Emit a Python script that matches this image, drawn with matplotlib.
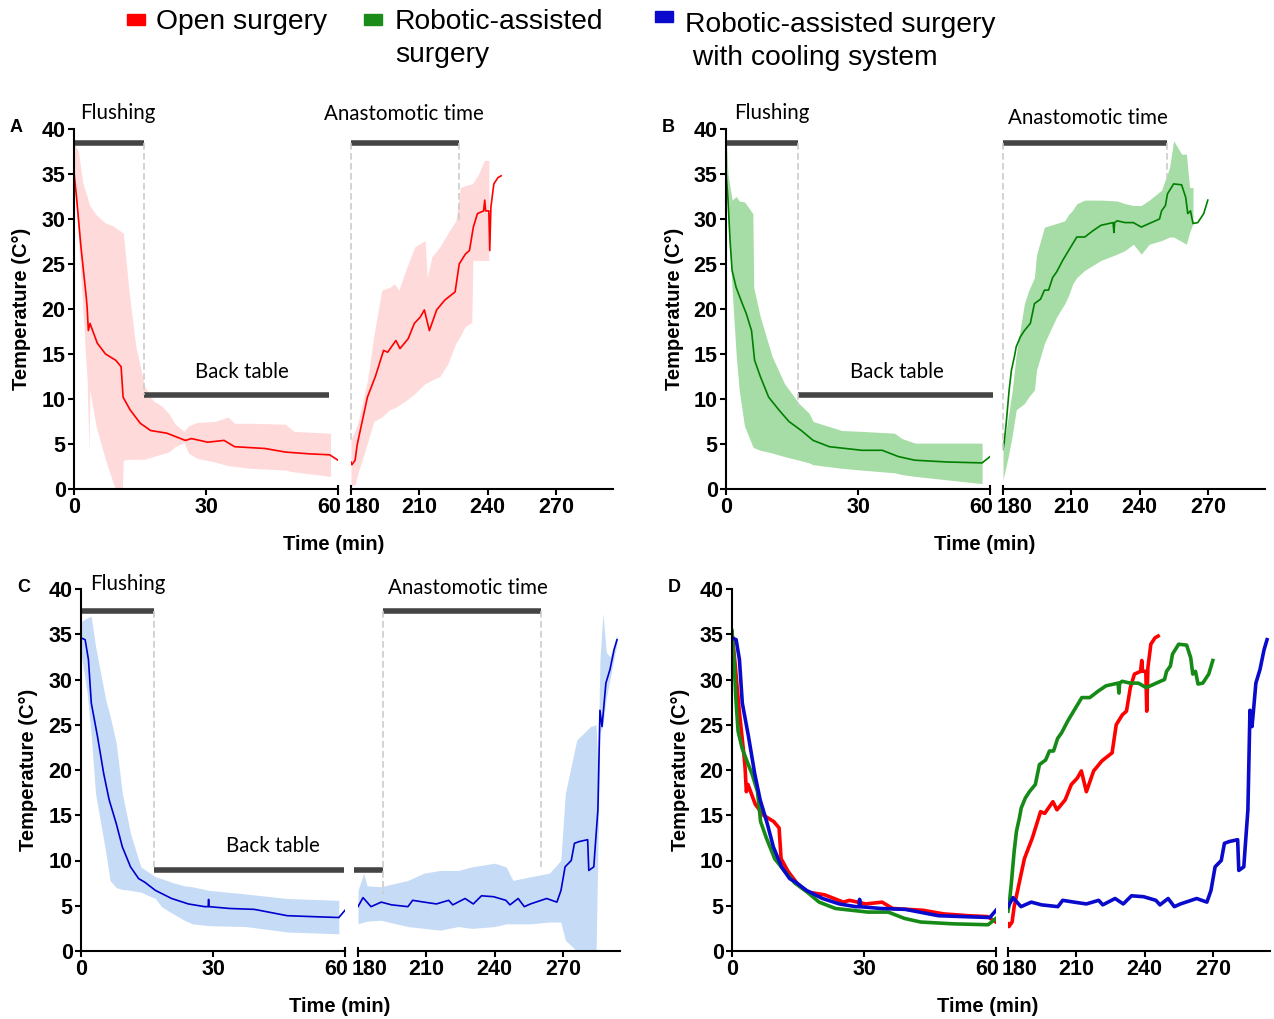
import matplotlib.pyplot as plt
import matplotlib.transforms as mtransforms

# ---------------- DATA ----------------
# OPEN SURGERY (red) - mean curve, 0-60 min
open_t_left = [0, 0.65, 1.58, 2.79, 2.98, 3.26, 3.63, 5.3, 7.16, 9.49, 10.7, 11.16, 12.74,
               15.07, 17.4, 21.1, 25.3, 26.7, 30.4, 34.1, 36.5, 43.4, 48.1, 53.7, 58.1, 60]
open_mean_left = [35.2, 32, 26.9, 21.3, 20.2, 17.6, 18.4, 16.2, 15.0, 14.3, 13.6, 10.2, 8.8,
                  7.3, 6.5, 6.2, 5.4, 5.6, 5.2, 5.4, 4.7, 4.5, 4.1, 3.9, 3.8, 3.2]
open_band_t_left = [0, 1, 2, 3, 3.4, 3.6, 5, 7, 9, 9.5, 11, 11.2, 12.5, 14, 16, 18, 20, 21.5,
                    23, 25, 26, 28, 32, 35, 36.5, 40, 48, 50, 58.3]
open_upper_left = [38.5, 37.5, 34, 32.5, 31.7, 31.5, 30.5, 29.6, 29.2, 29.0, 28.5, 28.5, 22, 16,
                   11.5, 9.8, 9.2, 8.4, 7.2, 6.4, 7.0, 7.4, 7.5, 8.0, 7.3, 7.3, 7.2, 6.4, 6.2]
open_lower_left = [35, 28, 20, 12, 4.1, 11, 7, 3.5, 0.5, 0, 0, 3.2, 3.3, 3.3, 3.3, 3.6, 3.9, 4.1,
                   4.7, 5.2, 4.0, 3.4, 3.0, 2.6, 2.5, 2.3, 2.1, 1.9, 1.4]
# OPEN SURGERY - 180 min onwards
open_t_right = [180, 180.4, 181.8, 182.7, 187.2, 190.7, 194.3, 196.1, 199.7, 201.5, 205.1, 207.8,
                210.4, 212.2, 214.4, 217.6, 221.2, 225.7, 227.5, 230.2, 232.0, 233.7, 235.5,
                238.2, 238.7, 239.1, 240.5, 240.9, 241.4, 242.7, 244.5, 245.9]
open_mean_right = [3.0, 2.7, 3.2, 4.9, 10.2, 12.5, 15.4, 15.2, 16.5, 15.6, 16.7, 18.4,
                   19.1, 19.9, 17.6, 19.9, 21.0, 21.9, 25.0, 26.1, 26.5, 29.1, 30.6,
                   30.9, 32.1, 30.9, 30.9, 26.5, 31.3, 33.9, 34.6, 34.8]
open_band_t_right = [180, 181.8, 183, 187.2, 190, 193.5, 197, 199, 201, 204, 208, 212.5, 213.5,
                     215.5, 219, 222.5, 226, 228, 230, 233, 233.5, 236, 238.5, 240.5]
open_upper_right = [5.5, 6.5, 7.3, 12, 17, 22.1, 22.4, 22.8, 22.1, 24.3, 26.9, 27.6, 23.5,
                    25.8, 26.9, 28.4, 29.8, 33.5, 33.7, 33.9, 34.0, 35.0, 36.5, 36.5]
open_lower_right = [0.3, 0.5, 1.7, 5.1, 7.5, 8.0, 8.8, 9.0, 9.3, 9.8, 10.6, 11.7, 11.8,
                    12.1, 12.5, 13.9, 16.2, 17.0, 18.0, 18.5, 25.4, 25.4, 25.4, 25.4]

# ROBOTIC-ASSISTED SURGERY (green)
robot_t_left = [0, 0.46, 0.92, 1.38, 2.3, 3.7, 4.6, 5.8, 6.5, 7.8, 9.7, 12.0, 14.3, 17.1, 19.8,
                23.5, 27.2, 30.9, 35.5, 39.2, 42.9, 50.3, 58.2, 60]
robot_mean_left = [35.4, 32.1, 27.6, 24.3, 22.4, 20.6, 19.5, 17.6, 14.3, 12.5, 10.2, 8.8, 7.5,
                   6.5, 5.4, 4.7, 4.5, 4.3, 4.3, 3.6, 3.2, 3.0, 2.9, 3.6]
robot_band_t_left = [0, 0.46, 1.4, 2.3, 3.0, 4.2, 6.1, 6.3, 7.8, 10.5, 13.3, 16.6, 18.9, 19.8,
                     26.3, 30.9, 38.3, 40, 43, 58.2]
robot_upper_left = [39.4, 35.0, 32.1, 32.5, 32.0, 31.9, 30.6, 22.4, 19.1, 14.7, 11.7, 9.5, 8.4,
                    7.5, 6.5, 6.4, 6.2, 5.6, 5.1, 5.1]
robot_lower_left = [36.9, 30, 22.1, 15, 11, 7, 4.7, 4.6, 4.3, 4.0, 3.6, 3.2, 2.9, 2.7, 2.3, 2.1,
                    1.8, 1.6, 1.4, 0.6]
robot_t_right = [180, 180.5, 181.4, 182.7, 183.7, 185.0, 185.8, 187.6, 189.4, 192.0, 193.8, 196.5,
                 198.2, 200.0, 201.8, 203.5, 206.2, 208.8, 212.4, 215.9, 219.5, 223.0, 228.3,
                 228.7, 229.0, 230.1, 233.6, 237.2, 240.7, 244.2, 248.7, 249.6, 251.3, 252.2,
                 254.9, 258.4, 260.2, 261.1, 262.3, 263.4, 265.5, 268.1, 269.9]
robot_mean_right = [4.4, 5.1, 7.3, 11.0, 13.2, 14.7, 15.8, 16.9, 17.6, 18.4, 20.6, 21.1,
                    22.1, 22.1, 23.5, 24.1, 25.4, 26.5, 28.0, 28.0, 28.7, 29.3, 29.6,
                    28.5, 29.6, 29.8, 29.6, 29.6, 29.1, 29.5, 30.0, 30.9, 31.5, 32.8,
                    33.9, 33.8, 32.4, 30.6, 30.9, 29.5, 29.6, 30.6, 32.1]
robot_band_t_right = [180, 182.3, 184.1, 185.8, 189.4, 191.2, 193.8, 194.7, 198.2, 203.5, 207.1,
                      208.8, 210.6, 212.4, 215.9, 223.0, 230.1, 233.6, 237.2, 240.7, 244.2,
                      249.6, 253.1, 254.9, 258.4, 260.5, 261.9, 263.4]
robot_upper_right = [4.3, 8, 11.0, 15, 20.6, 22, 23.5, 26, 29.1, 29.5, 29.8, 30.5, 31, 31.7,
                     32.1, 32.1, 32.0, 31.7, 31.5, 31.5, 32.1, 33.2, 35.7, 38.7, 37.2, 37.2,
                     33.5, 33.5]
robot_lower_right = [1.0, 3.6, 6, 8.8, 9.5, 10.2, 11, 13.2, 16.2, 19.1, 20.6, 21.5, 22.8, 23.5,
                     24.3, 25.4, 26.1, 26.5, 27.2, 26.1, 27.2, 27.6, 28, 28, 27.5, 27.2,
                     28.5, 29.5]

# ROBOTIC-ASSISTED SURGERY WITH COOLING SYSTEM (blue)
cool_t_left = [0, 0.94, 1.69, 2.34, 3.75, 5.16, 6.4, 8.0, 9.4, 11.25, 13.1, 14.5, 16.9, 20.6,
               24.4, 28.1, 28.9, 29.0, 29.1, 33.75, 39.4, 46.9, 52.5, 58.6, 60]
cool_mean_left = [34.6, 34.4, 32.2, 27.4, 23.7, 19.6, 16.7, 14.1, 11.5, 9.3, 8.0, 7.6, 6.7, 5.8,
                  5.2, 4.9, 4.9, 5.7, 4.9, 4.7, 4.6, 3.9, 3.8, 3.7, 4.5]
cool_band_t_left = [0, 1.4, 2.3, 3.3, 5.6, 6.6, 8.0, 9.4, 11.25, 13.6, 16.9, 18.3, 20.6, 23.5,
                    25.3, 29.1, 37.5, 46.9, 58.6]
cool_upper_left = [36.4, 36.8, 37.0, 33.7, 27.8, 26, 23.0, 17.4, 13.0, 9.3, 8.2, 8.0, 7.6, 7.2,
                   7.1, 6.7, 6.3, 5.8, 5.6]
cool_lower_left = [32.9, 28.5, 24, 17.4, 11, 7.8, 7.0, 6.8, 6.7, 6.5, 5.8, 4.9, 4.2, 3.4, 3.0,
                   2.8, 2.7, 2.1, 1.9]
cool_t_right = [180, 182.2, 185.7, 190.2, 194.7, 201.9, 204.0, 209.0, 214.4, 219.8, 221.6, 227.0,
                230.6, 234.2, 239.5, 244.9, 246.7, 250.3, 253.0, 255.7, 262.8, 267.3, 269.1,
                270.9, 273.6, 275.0, 277.2, 280.8, 281.3, 283.5, 284.0, 285.3, 286.2, 287.1,
                287.9, 288.8, 290.6, 292.4, 293.7]
cool_mean_right = [4.9, 5.9, 4.9, 5.4, 5.1, 4.9, 5.6, 5.4, 5.2, 5.6, 5.1, 5.8,
                   5.2, 6.1, 6.0, 5.6, 5.1, 5.8, 4.9, 5.2, 5.8, 5.4, 6.7,
                   9.3, 10.0, 11.9, 12.1, 12.3, 8.9, 9.3, 11.1, 15.6, 26.6, 24.8,
                   27.0, 29.6, 31.1, 33.3, 34.4]
cool_band_t_right = [180, 182.5, 184, 190, 201.9, 209, 216, 224, 230, 240, 245, 248, 255.7, 264,
                     269, 271, 276, 282, 284.5, 285.3, 286.2, 287.5, 289, 290.6, 293.7]
cool_upper_right = [6.7, 8.6, 7.2, 7.1, 7.8, 8.6, 8.9, 8.9, 9.3, 9.7, 9.3, 7.8, 8.2, 8.6,
                    10.0, 17.4, 23.3, 24.8, 25, 20, 32.2, 37.3, 33, 32.5, 35]
cool_lower_right = [3.0, 3.2, 3.3, 3.4, 2.7, 2.5, 2.3, 2.7, 2.5, 2.7, 3.0, 3.0, 3.0, 3.2,
                    3.2, 1.2, 0, 0, 0, 11, 24, 25, 28, 30, 34]

yticks = [0, 5, 10, 15, 20, 25, 30, 35, 40]
xticks_left = [0, 30, 60]
xticks_right = [180, 210, 240, 270]
legend_labels = ['Open surgery', 'Robotic-assisted\nsurgery', 'Robotic-assisted surgery\n with cooling system']

RED = '#FF0000'
GREEN = '#008000'
BLUE = '#0000CD'
BAR = '#444444'

W, H = 1274, 1019
fig = plt.figure(figsize=(W / 100, H / 100), dpi=100)
plt.rcParams['font.family'] = ['Liberation Sans', 'DejaVu Sans']


def px_axes(x0, x1, y0, y1):
    return fig.add_axes([x0 / W, 1 - y1 / H, (x1 - x0) / W, (y1 - y0) / H])


def make_panel(x0, xb0, xb1, x1, y0, y1, letter, xlab_x):
    axl = px_axes(x0, xb0, y0, y1)
    axr = px_axes(xb1, x1, y0, y1)
    for ax in (axl, axr):
        ax.set_ylim(0, 40)
        ax.spines['top'].set_visible(False)
        ax.spines['right'].set_visible(False)
        ax.spines['bottom'].set_linewidth(1.5)
        ax.spines['left'].set_linewidth(1.5)
        ax.tick_params(width=1.5, length=4, labelsize=15, pad=2)
        ax.patch.set_alpha(0)
    axl.set_xlim(0, 60)
    axr.set_xlim(180, 295)
    axl.set_xticks(xticks_left)
    axr.set_xticks(xticks_right)
    axl.set_yticks(yticks)
    axl.set_yticklabels([str(v) for v in yticks], fontweight='bold', fontsize=15.5)
    axl.set_xticklabels([str(v) for v in xticks_left], fontweight='bold', fontsize=15.5)
    axr.set_xticklabels([str(v) for v in xticks_right], fontweight='bold', fontsize=15.5)
    axr.spines['left'].set_visible(False)
    axr.set_yticks([])
    # push "60" and "180" away from the break
    labs = axl.get_xticklabels()
    labs[-1].set_horizontalalignment('right')
    labs[-1].set_transform(labs[-1].get_transform() + mtransforms.ScaledTranslation(3 / 100, 0, fig.dpi_scale_trans))
    labs = axr.get_xticklabels()
    labs[0].set_horizontalalignment('left')
    labs[0].set_transform(labs[0].get_transform() + mtransforms.ScaledTranslation(-6 / 100, 0, fig.dpi_scale_trans))
    # break marks
    axl.plot([60, 60], [0, 0.3], color='black', lw=1.5, clip_on=False)
    axr.plot([180, 180], [0, 0.3], color='black', lw=1.5, clip_on=False)
    fig.text((x0 - 64) / W, 1 - (y0 - 1) / H, letter, fontsize=13, fontweight='bold', ha='left', va='center')
    fig.text((x0 - 52) / W, 1 - ((y0 + y1) / 2) / H, 'Temperature (C°)', rotation=90,
             fontsize=14.5, fontweight='bold', ha='center', va='center')
    fig.text(xlab_x / W, 1 - (y1 + 55) / H, 'Time (min)', fontsize=14.5, fontweight='bold',
             ha='center', va='center')
    return axl, axr


def draw_series(axl, axr, tl, ml, btl, ul, ll, tr, mr, btr, ur, lr, line_c, band_c, lw):
    if btl is not None:
        axl.fill_between(btl, ll, ul, color=band_c, lw=0)
        axr.fill_between(btr, lr, ur, color=band_c, lw=0)
    axl.plot(tl, ml, color=line_c, lw=lw)
    axr.plot(tr, mr, color=line_c, lw=lw)


def phase(axl, axr, flush_end, back_end, back_y, ana_start, ana_end, top_y, dash_bottoms,
          extra_back=None):
    kw = dict(color=BAR, lw=4, solid_capstyle='butt', clip_on=False)
    dkw = dict(color='#CCCCCC', lw=1.2, ls=(0, (4, 2)), clip_on=False)
    axl.plot([0, flush_end], [top_y, top_y], **kw)
    axl.plot([flush_end, back_end], [back_y, back_y], **kw)
    if extra_back is not None:
        axr.plot(extra_back, [back_y, back_y], **kw)
    axr.plot([ana_start, ana_end], [top_y, top_y], **kw)
    axl.plot([flush_end, flush_end], [top_y, dash_bottoms[0]], **dkw)
    axr.plot([ana_start, ana_start], [top_y, dash_bottoms[1]], **dkw)
    axr.plot([ana_end, ana_end], [top_y, dash_bottoms[2]], **dkw)


ann = dict(fontsize=14.8, family=['Lato', 'DejaVu Sans'], va='center')

# ---------------- PANEL A ----------------
aL, aR = make_panel(74, 338, 351, 613, 129, 489, 'A', 334)
draw_series(aL, aR, open_t_left, open_mean_left, open_band_t_left, open_upper_left, open_lower_left,
            open_t_right, open_mean_right, open_band_t_right, open_upper_right, open_lower_right,
            RED, '#FFDADA', 1.2)
phase(aL, aR, 16.0, 58.0, 10.5, 180, 227.5, 38.5, [10.5, 5.2, 29.8])
fig.text(80 / W, 1 - 113 / H, 'Flushing', ha='left', **ann)
fig.text(324 / W, 1 - 114 / H, 'Anastomotic time', ha='left', **ann)
fig.text(242 / W, 1 - 372 / H, 'Back table', ha='center', **ann)

# ---------------- PANEL B ----------------
bL, bR = make_panel(726, 990, 1003, 1265, 129, 489, 'B', 985)
draw_series(bL, bR, robot_t_left, robot_mean_left, robot_band_t_left, robot_upper_left, robot_lower_left,
            robot_t_right, robot_mean_right, robot_band_t_right, robot_upper_right, robot_lower_right,
            GREEN, '#A6DCA6', 1.2)
phase(bL, bR, 16.3, 60.6, 10.5, 180, 252.2, 38.5, [9.1, 4.3, 34.6])
fig.text(734 / W, 1 - 113 / H, 'Flushing', ha='left', **ann)
fig.text(1008 / W, 1 - 118 / H, 'Anastomotic time', ha='left', **ann)
fig.text(897 / W, 1 - 372 / H, 'Back table', ha='center', **ann)

# ---------------- PANEL C ----------------
cL, cR = make_panel(81, 345, 358, 620, 589, 951, 'C', 340)
draw_series(cL, cR, cool_t_left, cool_mean_left, cool_band_t_left, cool_upper_left, cool_lower_left,
            cool_t_right, cool_mean_right, cool_band_t_right, cool_upper_right, cool_lower_right,
            BLUE, '#C6DCF6', 1.2)
phase(cL, cR, 16.7, 59.8, 9.0, 190.8, 260.5, 37.6, [9.3, 6.3, 9.3], extra_back=[178.3, 190.8])
fig.text(90 / W, 1 - 584 / H, 'Flushing', ha='left', **ann)
fig.text(388 / W, 1 - 588 / H, 'Anastomotic time', ha='left', **ann)
fig.text(273 / W, 1 - 846 / H, 'Back table', ha='center', **ann)

# ---------------- PANEL D ----------------
dL, dR = make_panel(732, 996, 1008, 1270, 589, 951, 'D', 988)
draw_series(dL, dR, open_t_left, open_mean_left, None, None, None,
            open_t_right, open_mean_right, None, None, None, RED, None, 2.6)
draw_series(dL, dR, robot_t_left, robot_mean_left, None, None, None,
            robot_t_right, robot_mean_right, None, None, None, '#168A16', None, 2.6)
draw_series(dL, dR, cool_t_left, cool_mean_left, None, None, None,
            cool_t_right, cool_mean_right, None, None, None, '#0A0ACC', None, 2.6)

# ---------------- LEGEND ----------------
leg_colors = [RED, '#1A8C1A', '#0A0ACC']
sq_x = [127, 364, 655]
sq_y = [14, 14, 11]
txt_x = [156, 395, 685]
txt_y = [22, 22, 25]
for c, sx, sy, tx, ty, lab in zip(leg_colors, sq_x, sq_y, txt_x, txt_y, legend_labels):
    fig.patches.append(plt.Rectangle((sx / W, 1 - (sy + 11) / H), 18 / W, 11 / H, color=c,
                                     transform=fig.transFigure, figure=fig))
    fig.text(tx / W, 1 - (ty - 13) / H, lab, fontsize=20.3, ha='left', va='top', linespacing=1.33)

fig.savefig('out.png', dpi=100)
